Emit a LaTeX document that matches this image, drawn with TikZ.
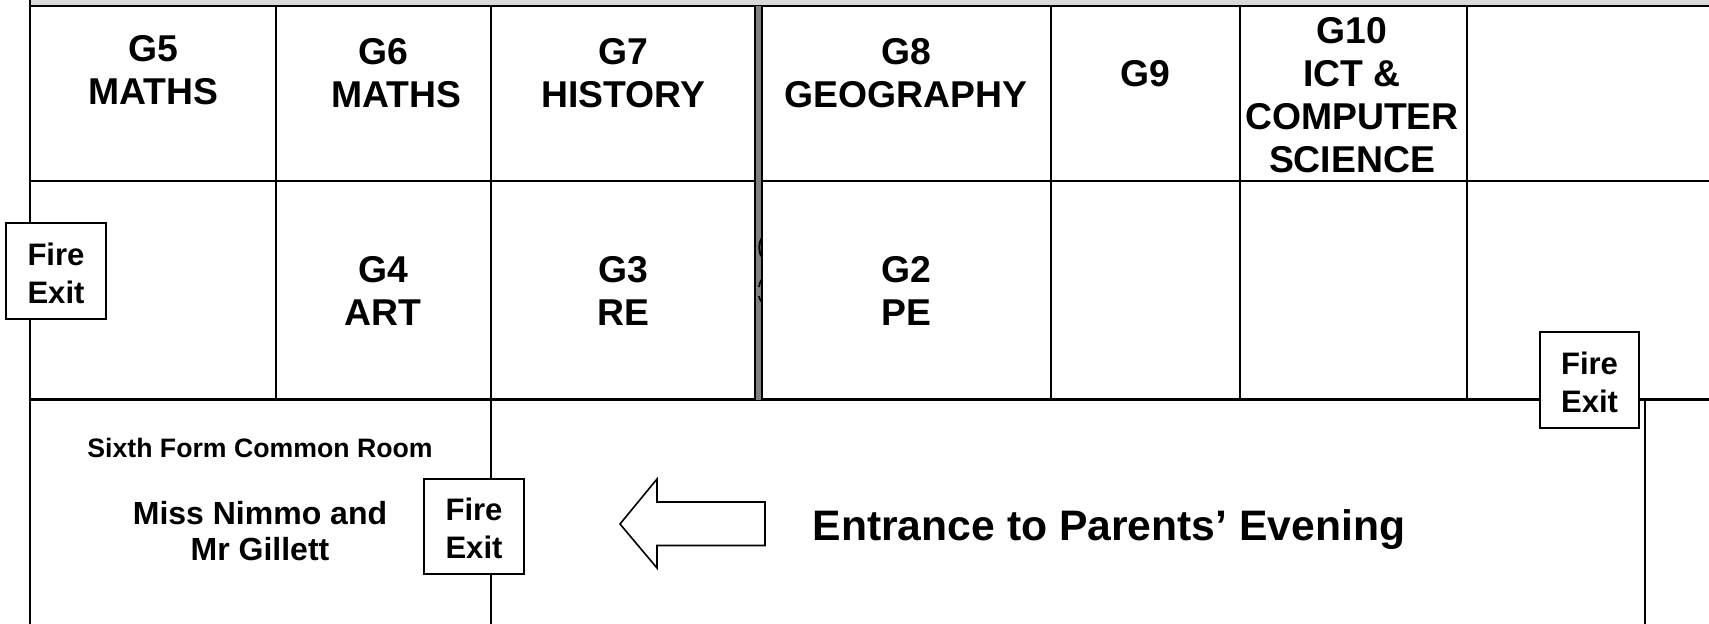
\documentclass[tikz,border=0pt]{standalone}
\usepackage{fontspec}
\setmainfont{Liberation Sans}
\tikzset{
  x=0.75pt,y=-0.75pt,
  wall/.style={draw=black,line width=1.7pt,line cap=butt},
  roomtext/.style={font=\bfseries\fontsize{28pt}{32.3pt}\selectfont,align=center,inner sep=0pt,text=black},
  exitbox/.style={draw=black,line width=1.7pt,fill=white,minimum width=74.5pt,minimum height=71.5pt,inner sep=0pt,align=center,font=\bfseries\fontsize{23.3pt}{28.5pt}\selectfont},
  smalltext/.style={font=\bfseries\fontsize{20pt}{22pt}\selectfont,align=center,inner sep=0pt},
  midtext/.style={font=\bfseries\fontsize{24pt}{27.5pt}\selectfont,align=center,inner sep=0pt},
  bigtext/.style={font=\bfseries\fontsize{32pt}{38pt}\selectfont,inner sep=0pt},
}
\begin{document}
\begin{tikzpicture}
\useasboundingbox (0,0) rectangle (1709,624);
\fill[white] (0,0) rectangle (1709,624);
\fill[black!15] (30,0) rectangle (1709,6);
% walls
\foreach \yy in {6,181,399.5}{\draw[wall] (30,\yy) -- (1709,\yy);}
\draw[wall] (30,0) -- (30,624);
\draw[wall] (491,6) -- (491,624);
\foreach \xx in {276,1051,1240,1467}{\draw[wall] (\xx,6) -- (\xx,399.5);}
\draw[wall] (1645,399.5) -- (1645,624);
% thick grey partition
\fill[black!50] (755,6) rectangle (762,399.5);
\draw[wall] (755,6) -- (755,399.5);
\draw[wall] (762,6) -- (762,399.5);
\draw[black,line width=1.5pt] (762,238) .. controls (758.5,242) and (758.5,253) .. (762,257);
\draw[black,line width=1.3pt] (762,279) .. controls (760,282) and (759,285) .. (759,287);
\draw[black,line width=1.3pt] (759,296) .. controls (759,298) and (760,300) .. (762,302);
% room labels
\node[roomtext] (g5) at (153,70) {G5\\MATHS};
\node[roomtext] (g6) at (396,73) {G6\hspace*{19.5pt}\\MATHS};
\node[roomtext] (g7) at (623,73) {G7\\HISTORY};
\node[roomtext] (g8) at (906,73) {G8\\GEOGRAPHY};
\node[roomtext] (g9) at (1145,74) {G9};
\node[roomtext] (g10) at (1352,95) {G10\\ICT \&\\COMPUTER\\SCIENCE};
\node[roomtext] (g4) at (383,291) {G4\\ART};
\node[roomtext] (g3) at (623,291) {G3\\RE};
\node[roomtext] (g2) at (906,291) {G2\\PE};
% lower area
\node[smalltext] (sixth) at (260,448) {Sixth Form Common Room};
\node[midtext] (staff) at (260,531) {Miss Nimmo and\\Mr Gillett};
\node[bigtext] (entrance) at (1109,529.5) {Entrance to Parents’ Evening};
\draw[draw=black,line width=1.2pt,fill=white,line join=miter] (620,524) -- (657,479) -- (657,502) -- (765,502) -- (765,545.5) -- (657,545.5) -- (657,568) -- cycle;
% fire exits
\node[exitbox] (fe1) at (56,271) {\rule{0pt}{20pt}Fire\\Exit};
\node[exitbox] (fe2) at (474,526.5) {\rule{0pt}{20pt}Fire\\Exit};
\node[exitbox] (fe3) at (1589.5,380) {\rule{0pt}{20pt}Fire\\Exit};
\end{tikzpicture}
\end{document}
